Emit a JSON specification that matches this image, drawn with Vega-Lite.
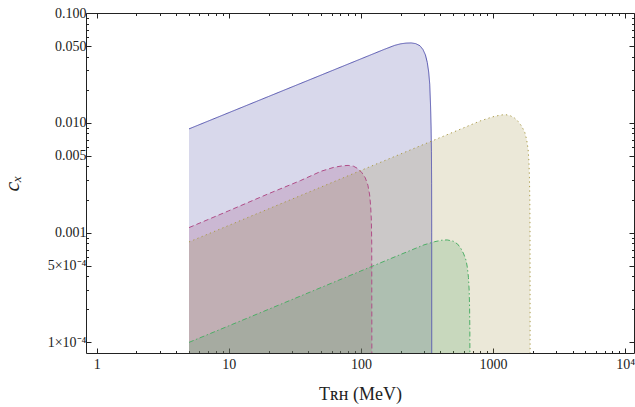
{
  "$schema": "https://vega.github.io/schema/vega-lite/v6.json",
  "width": 548,
  "height": 340,
  "autosize": "none",
  "padding": {"left": 86, "top": 13, "right": 1, "bottom": 54},
  "config": {
    "view": {"stroke": null},
    "axis": {
      "grid": false,
      "domainColor": "#222",
      "domainWidth": 1,
      "tickColor": "#222",
      "tickWidth": 1,
      "labelColor": "#222",
      "titleColor": "#222",
      "labelFont": "Liberation Serif",
      "labelFontSize": 14,
      "titleFont": "Liberation Serif",
      "titleFontSize": 18,
      "titleFontWeight": "normal",
      "labelOverlap": false,
      "labelBound": false,
      "labelFlush": false
    }
  },
  "data": {
    "values": [
      {"series": "curve 1", "x": 5, "y": 0.0088},
      {"series": "curve 1", "x": 10, "y": 0.01236},
      {"series": "curve 1", "x": 20, "y": 0.01736},
      {"series": "curve 1", "x": 50, "y": 0.0272},
      {"series": "curve 1", "x": 100, "y": 0.0382},
      {"series": "curve 1", "x": 150, "y": 0.0466},
      {"series": "curve 1", "x": 180, "y": 0.0507},
      {"series": "curve 1", "x": 200, "y": 0.0524},
      {"series": "curve 1", "x": 220, "y": 0.0532},
      {"series": "curve 1", "x": 240, "y": 0.0534},
      {"series": "curve 1", "x": 260, "y": 0.0526},
      {"series": "curve 1", "x": 280, "y": 0.0503},
      {"series": "curve 1", "x": 295, "y": 0.0465},
      {"series": "curve 1", "x": 308, "y": 0.0415},
      {"series": "curve 1", "x": 318, "y": 0.0355},
      {"series": "curve 1", "x": 326, "y": 0.029},
      {"series": "curve 1", "x": 332, "y": 0.0225},
      {"series": "curve 1", "x": 337, "y": 0.014},
      {"series": "curve 1", "x": 340, "y": 0.009},
      {"series": "curve 1", "x": 342, "y": 0.0055},
      {"series": "curve 1", "x": 343, "y": 0.0028},
      {"series": "curve 1", "x": 343.5, "y": 0.001},
      {"series": "curve 1", "x": 343.7, "y": 0.00003},
      {"series": "curve 2", "x": 5, "y": 0.00111},
      {"series": "curve 2", "x": 10, "y": 0.00158},
      {"series": "curve 2", "x": 20, "y": 0.00226},
      {"series": "curve 2", "x": 35, "y": 0.00298},
      {"series": "curve 2", "x": 50, "y": 0.00362},
      {"series": "curve 2", "x": 62, "y": 0.00392},
      {"series": "curve 2", "x": 72, "y": 0.00405},
      {"series": "curve 2", "x": 80, "y": 0.00409},
      {"series": "curve 2", "x": 88, "y": 0.00402},
      {"series": "curve 2", "x": 95, "y": 0.00382},
      {"series": "curve 2", "x": 102, "y": 0.0035},
      {"series": "curve 2", "x": 108, "y": 0.00315},
      {"series": "curve 2", "x": 113, "y": 0.0027},
      {"series": "curve 2", "x": 116.5, "y": 0.0022},
      {"series": "curve 2", "x": 118.5, "y": 0.00175},
      {"series": "curve 2", "x": 120, "y": 0.0013},
      {"series": "curve 2", "x": 120.8, "y": 0.0008},
      {"series": "curve 2", "x": 121.2, "y": 0.00003},
      {"series": "curve 3", "x": 5, "y": 0.000822},
      {"series": "curve 3", "x": 10, "y": 0.001162},
      {"series": "curve 3", "x": 20, "y": 0.001644},
      {"series": "curve 3", "x": 50, "y": 0.0026},
      {"series": "curve 3", "x": 100, "y": 0.00368},
      {"series": "curve 3", "x": 200, "y": 0.0052},
      {"series": "curve 3", "x": 400, "y": 0.00735},
      {"series": "curve 3", "x": 600, "y": 0.009},
      {"series": "curve 3", "x": 800, "y": 0.0104},
      {"series": "curve 3", "x": 1000, "y": 0.01135},
      {"series": "curve 3", "x": 1120, "y": 0.0117},
      {"series": "curve 3", "x": 1233, "y": 0.0119},
      {"series": "curve 3", "x": 1350, "y": 0.0116},
      {"series": "curve 3", "x": 1450, "y": 0.0111},
      {"series": "curve 3", "x": 1550, "y": 0.0103},
      {"series": "curve 3", "x": 1650, "y": 0.0093},
      {"series": "curve 3", "x": 1740, "y": 0.0082},
      {"series": "curve 3", "x": 1800, "y": 0.007},
      {"series": "curve 3", "x": 1845, "y": 0.0057},
      {"series": "curve 3", "x": 1870, "y": 0.0045},
      {"series": "curve 3", "x": 1888, "y": 0.0032},
      {"series": "curve 3", "x": 1900, "y": 0.002},
      {"series": "curve 3", "x": 1907, "y": 0.001},
      {"series": "curve 3", "x": 1911, "y": 0.00003},
      {"series": "curve 4", "x": 5, "y": 0.0001},
      {"series": "curve 4", "x": 10, "y": 0.0001414},
      {"series": "curve 4", "x": 20, "y": 0.0002},
      {"series": "curve 4", "x": 50, "y": 0.000316},
      {"series": "curve 4", "x": 100, "y": 0.000447},
      {"series": "curve 4", "x": 200, "y": 0.000632},
      {"series": "curve 4", "x": 300, "y": 0.000772},
      {"series": "curve 4", "x": 360, "y": 0.000825},
      {"series": "curve 4", "x": 410, "y": 0.000852},
      {"series": "curve 4", "x": 450, "y": 0.000857},
      {"series": "curve 4", "x": 500, "y": 0.000835},
      {"series": "curve 4", "x": 540, "y": 0.000785},
      {"series": "curve 4", "x": 570, "y": 0.00072},
      {"series": "curve 4", "x": 600, "y": 0.00064},
      {"series": "curve 4", "x": 625, "y": 0.00056},
      {"series": "curve 4", "x": 640, "y": 0.00048},
      {"series": "curve 4", "x": 652, "y": 0.00039},
      {"series": "curve 4", "x": 660, "y": 0.0003},
      {"series": "curve 4", "x": 665, "y": 0.00021},
      {"series": "curve 4", "x": 668, "y": 0.00013},
      {"series": "curve 4", "x": 669.5, "y": 0.00003}
    ]
  },
  "layer": [
    {
      "mark": {"type": "area", "clip": true, "fillOpacity": 0.2},
      "encoding": {
        "x": {
          "field": "x", "type": "quantitative",
          "scale": {"type": "log", "domain": [0.83, 11680], "nice": false},
          "axis": {
            "orient": "bottom",
            "values": [1,2,3,4,5,6,7,8,9,10,20,30,40,50,60,70,80,90,100,200,300,400,500,600,700,800,900,1000,2000,3000,4000,5000,6000,7000,8000,9000,10000],
            "labelExpr": "datum.value == 1 ? '1' : datum.value == 10 ? '10' : datum.value == 100 ? '100' : datum.value == 1000 ? '1000' : datum.value == 10000 ? '10⁴' : ''",
            "tickSize": {"condition": {"test": "datum.value == 1 || datum.value == 10 || datum.value == 100 || datum.value == 1000 || datum.value == 10000", "value": -5}, "value": -2.5},
            "labelPadding": 9,
            "title": "Tʀʜ (MeV)",
            "titlePadding": 12
          }
        },
        "y": {
          "field": "y", "type": "quantitative",
          "scale": {"type": "log", "domain": [0.00008, 0.1], "nice": false},
          "axis": {
            "orient": "left",
            "values": [0.1,0.09,0.08,0.07,0.06,0.05,0.04,0.03,0.02,0.01,0.009,0.008,0.007,0.006,0.005,0.004,0.003,0.002,0.001,0.0009,0.0008,0.0007,0.0006,0.0005,0.0004,0.0003,0.0002,0.0001],
            "labelExpr": "datum.value == 0.1 ? '0.100' : datum.value == 0.05 ? '0.050' : datum.value == 0.01 ? '0.010' : datum.value == 0.005 ? '0.005' : datum.value == 0.001 ? '0.001' : datum.value == 0.0005 ? '5×10⁻⁴' : datum.value == 0.0001 ? '1×10⁻⁴' : ''",
            "tickSize": {"condition": {"test": "datum.value == 0.1 || datum.value == 0.05 || datum.value == 0.01 || datum.value == 0.005 || datum.value == 0.001 || datum.value == 0.0005 || datum.value == 0.0001", "value": -5}, "value": -2.5},
            "labelPadding": 5,
            "title": "cₓ",
            "titleFontStyle": "italic",
            "titleFontSize": 22,
            "titlePadding": 24
          }
        },
        "y2": {"datum": 0.00001},
        "color": {
          "field": "series", "type": "nominal",
          "scale": {"domain": ["curve 1", "curve 2", "curve 3", "curve 4"], "range": ["#3d3d99", "#993d71", "#998b3d", "#3d9956"]},
          "legend": null
        }
      }
    },
    {
      "mark": {"type": "line", "clip": true, "strokeWidth": 1, "strokeCap": "butt"},
      "encoding": {
        "x": {
          "field": "x", "type": "quantitative",
          "axis": {
            "orient": "top",
            "values": [1,2,3,4,5,6,7,8,9,10,20,30,40,50,60,70,80,90,100,200,300,400,500,600,700,800,900,1000,2000,3000,4000,5000,6000,7000,8000,9000,10000],
            "labels": false,
            "tickSize": {"condition": {"test": "datum.value == 1 || datum.value == 10 || datum.value == 100 || datum.value == 1000 || datum.value == 10000", "value": -5}, "value": -2.5},
            "title": null
          }
        },
        "y": {
          "field": "y", "type": "quantitative",
          "axis": {
            "orient": "right",
            "values": [0.1,0.09,0.08,0.07,0.06,0.05,0.04,0.03,0.02,0.01,0.009,0.008,0.007,0.006,0.005,0.004,0.003,0.002,0.001,0.0009,0.0008,0.0007,0.0006,0.0005,0.0004,0.0003,0.0002,0.0001],
            "labels": false,
            "tickSize": {"condition": {"test": "datum.value == 0.1 || datum.value == 0.05 || datum.value == 0.01 || datum.value == 0.005 || datum.value == 0.001 || datum.value == 0.0005 || datum.value == 0.0001", "value": -5}, "value": -2.5},
            "title": null
          }
        },
        "color": {
          "field": "series", "type": "nominal",
          "scale": {"domain": ["curve 1", "curve 2", "curve 3", "curve 4"], "range": ["#5555b0", "#b04d88", "#ab9c4a", "#4dae66"]},
          "legend": null
        },
        "strokeDash": {
          "field": "series", "type": "nominal",
          "scale": {"domain": ["curve 1", "curve 2", "curve 3", "curve 4"], "range": [[1, 0], [5, 3], [1.3, 3.2], [5, 2.5, 1.5, 2.5]]},
          "legend": null
        }
      }
    }
  ],
  "resolve": {"axis": {"x": "independent", "y": "independent"}, "scale": {"color": "independent"}}
}
